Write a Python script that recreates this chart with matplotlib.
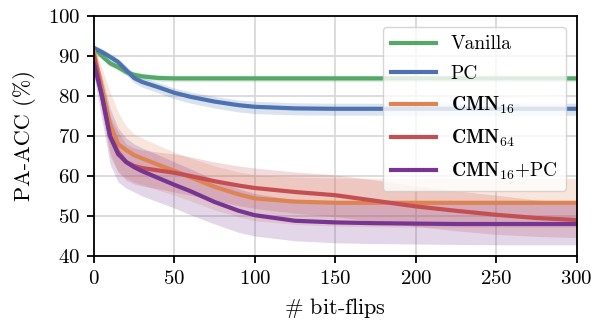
import matplotlib
matplotlib.use('Agg')
import matplotlib.pyplot as plt

plt.rcParams['font.family'] = 'cmr10'
plt.rcParams['mathtext.fontset'] = 'cm'
plt.rcParams['axes.formatter.use_mathtext'] = True

# bit-flip counts where values were read
flips = [0, 5, 10, 15, 20, 25, 30, 40, 50, 60, 75, 90, 100, 125, 150, 175, 200, 225, 250, 275, 300]

vanilla = [92.0, 90.0, 88.2, 87.2, 86.0, 85.3, 84.9, 84.5, 84.4, 84.4, 84.4, 84.4, 84.4, 84.4, 84.4, 84.4, 84.4, 84.4, 84.4, 84.4, 84.4]
vanilla_lo = [91.3, 89.2, 87.4, 86.4, 85.2, 84.5, 84.1, 83.7, 83.6, 83.6, 83.6, 83.6, 83.6, 83.6, 83.6, 83.6, 83.6, 83.6, 83.6, 83.6, 83.6]
vanilla_hi = [92.7, 90.8, 89.0, 88.0, 86.8, 86.1, 85.7, 85.3, 85.2, 85.2, 85.2, 85.2, 85.2, 85.2, 85.2, 85.2, 85.2, 85.2, 85.2, 85.2, 85.2]

pc = [92.0, 91.0, 89.8, 88.5, 86.5, 84.5, 83.5, 82.2, 80.8, 79.8, 78.6, 77.7, 77.3, 76.9, 76.8, 76.8, 76.8, 76.8, 76.8, 76.8, 76.8]
pc_lo = [91.2, 90.2, 88.9, 87.4, 85.3, 83.3, 82.2, 80.8, 79.3, 78.2, 77.0, 76.0, 75.6, 75.3, 75.2, 75.2, 75.2, 75.2, 75.2, 75.2, 75.2]
pc_hi = [92.8, 91.8, 90.6, 89.4, 87.5, 85.5, 84.6, 83.4, 82.0, 81.0, 79.9, 79.0, 78.7, 78.3, 78.2, 78.2, 78.2, 78.2, 78.2, 78.2, 78.2]

cmn16 = [91.0, 82.0, 73.0, 68.0, 66.5, 65.2, 64.4, 62.8, 61.3, 59.7, 57.3, 55.4, 54.4, 53.6, 53.3, 53.3, 53.3, 53.3, 53.3, 53.3, 53.3]
cmn16_lo = [89.0, 77.0, 66.0, 61.0, 59.5, 58.5, 57.8, 56.5, 55.2, 53.8, 51.5, 49.8, 48.8, 47.9, 47.5, 47.3, 47.2, 47.2, 47.2, 47.2, 47.2]
cmn16_hi = [92.5, 87.0, 81.0, 76.0, 72.5, 70.5, 69.5, 67.7, 66.0, 64.5, 62.5, 61.0, 60.3, 59.7, 59.5, 59.4, 59.4, 59.4, 59.4, 59.4, 59.4]

cmn64 = [90.0, 80.0, 70.0, 66.0, 63.5, 62.5, 62.0, 61.4, 60.8, 60.0, 58.7, 57.6, 57.0, 56.0, 55.2, 53.8, 52.4, 51.3, 50.3, 49.5, 49.0]
cmn64_lo = [88.0, 76.0, 65.0, 61.0, 59.0, 58.0, 57.5, 56.8, 56.0, 55.2, 53.8, 52.6, 51.9, 50.7, 49.8, 48.6, 47.4, 46.3, 45.4, 44.9, 44.6]
cmn64_hi = [91.5, 84.0, 75.0, 71.0, 68.0, 67.0, 66.5, 66.0, 65.5, 64.8, 63.5, 62.5, 62.0, 61.0, 60.3, 59.0, 57.5, 56.3, 55.2, 54.0, 53.4]

cmn16_pc = [88.0, 80.0, 70.0, 65.5, 63.5, 62.2, 61.2, 59.5, 57.8, 56.2, 53.5, 51.3, 50.2, 48.8, 48.4, 48.2, 48.1, 48.0, 48.0, 48.0, 48.0]
cmn16_pc_lo = [85.0, 74.0, 63.0, 58.5, 57.0, 56.0, 55.0, 53.5, 52.0, 50.3, 48.0, 45.9, 45.0, 43.8, 43.3, 43.1, 43.0, 42.9, 42.8, 42.8, 42.8]
cmn16_pc_hi = [90.5, 85.0, 77.0, 72.0, 69.5, 68.0, 67.0, 65.3, 63.5, 61.8, 59.0, 56.8, 55.6, 54.0, 53.5, 53.3, 53.2, 53.1, 53.1, 53.1, 53.1]

series = [
    (r'Vanilla', vanilla, vanilla_lo, vanilla_hi, '#55a868'),
    (r'PC', pc, pc_lo, pc_hi, '#4c72b0'),
    (r'$\mathbf{CMN}_{16}$', cmn16, cmn16_lo, cmn16_hi, '#dd8452'),
    (r'$\mathbf{CMN}_{64}$', cmn64, cmn64_lo, cmn64_hi, '#c44e52'),
    (r'$\mathbf{CMN}_{16}$+PC', cmn16_pc, cmn16_pc_lo, cmn16_pc_hi, '#763493'),
]

fig = plt.figure(figsize=(6.02, 3.2), dpi=100)
ax = fig.add_axes([0.156, 0.2, 0.802, 0.75])

for label, y, lo, hi, color in series:
    ax.fill_between(flips, lo, hi, color=color, alpha=0.2, linewidth=0)
    ax.plot(flips, y, color=color, linewidth=3, label=label)

ax.set_xlim(0, 300)
ax.set_ylim(40, 100)
ax.set_xticks(range(0, 301, 50))
ax.set_yticks(range(40, 101, 10))
ax.grid(True, color='#d6d6d6', linewidth=1.2)
ax.set_axisbelow(True)
for sp in ax.spines.values():
    sp.set_linewidth(1.3)
    sp.set_color('black')
ax.tick_params(labelsize=15, width=1.3, length=5, pad=5)

ax.set_xlabel(r'$\#$ bit-flips', fontsize=16, labelpad=6)
ax.set_ylabel('PA-ACC (%)', fontsize=16, labelpad=8)

ax.legend(loc='upper right', fontsize=14, framealpha=0.8, edgecolor='#cccccc',
          handlelength=2.3, handletextpad=0.75, borderaxespad=0.55, labelspacing=0.6,
          borderpad=0.45)

plt.savefig('out.png', dpi=100)
plt.close()
